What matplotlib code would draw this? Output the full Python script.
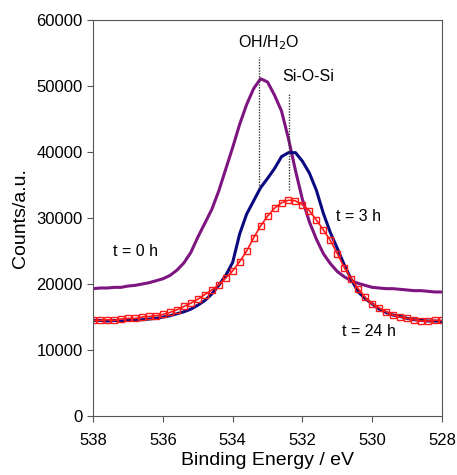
import numpy as np
import matplotlib.pyplot as plt

plt.rcParams['font.family'] = ['Liberation Sans', 'DejaVu Sans']

# binding energy grid (eV), 0.2 eV steps from 538 down to 528
energy = [538.0 - 0.2 * k for k in range(51)]

# t = 0 h (counts / 1000)
t0 = [19.3, 19.4, 19.4, 19.5, 19.5, 19.7, 19.8, 20.0, 20.2, 20.5,
      20.8, 21.3, 22.1, 23.2, 24.8, 27.1, 29.2, 31.3, 34.1, 37.4,
      40.7, 44.2, 47.2, 49.6, 51.1, 50.6, 48.6, 46.2, 42.0, 37.2,
      32.8, 29.4, 26.8, 24.6, 23.1, 21.9, 21.1, 20.5, 20.1, 19.8,
      19.5, 19.4, 19.3, 19.3, 19.2, 19.1, 19.0, 19.0, 18.9, 18.8, 18.8]

# t = 3 h
t3 = [14.5, 14.5, 14.4, 14.5, 14.4, 14.5, 14.5, 14.6, 14.7, 14.8,
      15.0, 15.2, 15.5, 15.8, 16.2, 16.8, 17.5, 18.5, 19.8, 21.3,
      23.3, 27.6, 30.6, 32.6, 34.6, 36.0, 37.5, 39.3, 39.9, 39.9,
      38.6, 36.8, 34.2, 30.7, 27.8, 25.4, 22.9, 20.7, 18.8, 17.8,
      17.0, 16.2, 15.7, 15.3, 15.1, 14.8, 14.6, 14.5, 14.4, 14.4, 14.3]

# t = 24 h
t24 = [14.5, 14.5, 14.6, 14.5, 14.7, 14.8, 14.8, 15.0, 15.1, 15.2,
       15.4, 15.7, 16.1, 16.6, 17.1, 17.7, 18.4, 19.1, 19.9, 20.9,
       22.0, 23.4, 25.0, 27.0, 28.8, 30.3, 31.5, 32.3, 32.7, 32.6,
       32.0, 31.1, 29.7, 28.2, 26.6, 24.6, 22.5, 20.8, 19.3, 18.0,
       17.0, 16.4, 15.8, 15.3, 15.0, 14.8, 14.6, 14.4, 14.4, 14.5, 14.5]

x = np.array(energy)

fig = plt.figure(figsize=(4.57, 4.75), dpi=100)
ax = fig.add_axes([0.204, 0.124, 0.763, 0.834])

ax.plot(x, np.array(t0) * 1000, color='#7e1480', lw=2.2)
ax.plot(x, np.array(t3) * 1000, color='#0a0a80', lw=2.2)
ax.plot(x, np.array(t24) * 1000, color='#ff1a1a', lw=1.2,
        marker='s', ms=4, mfc='none', mec='#ff1a1a', mew=1.0)

# peak position markers
ax.plot([533.26, 533.26], [34500, 54400], ls=(0, (1, 1)), color='#333333', lw=1.0)
ax.plot([532.38, 532.38], [34200, 48800], ls=(0, (1, 1)), color='#333333', lw=1.0)

ax.text(532.98, 56500, 'OH/H$_2$O', ha='center', va='center', fontsize=11.5)
ax.text(531.83, 51500, 'Si-O-Si', ha='center', va='center', fontsize=11.5)
ax.text(536.8, 24900, 't = 0 h', ha='center', va='center', fontsize=11.5)
ax.text(530.4, 30200, 't = 3 h', ha='center', va='center', fontsize=11.5)
ax.text(530.1, 12800, 't = 24 h', ha='center', va='center', fontsize=11.5)

ax.set_xlim(538, 528)
ax.set_ylim(0, 60000)
ax.set_xticks([538, 536, 534, 532, 530, 528])
ax.set_yticks(range(0, 60001, 10000))
ax.tick_params(labelsize=12, direction='out', length=4, color='#555555')
ax.tick_params(axis='x', pad=8)
for s in ax.spines.values():
    s.set_color('#555555')
ax.set_xlabel('Binding Energy / eV', fontsize=14, labelpad=3)
ax.set_ylabel('Counts/a.u.', fontsize=14, labelpad=5)

fig.savefig('out.png', dpi=100)
